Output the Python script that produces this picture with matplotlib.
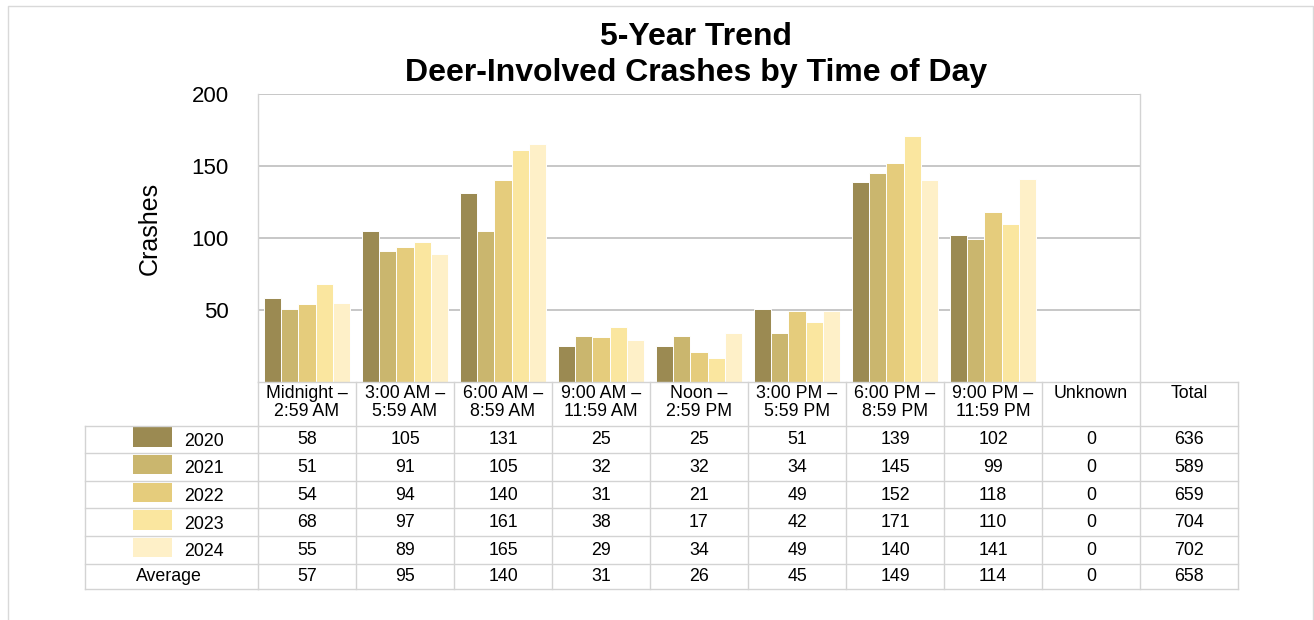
import matplotlib
matplotlib.use('Agg')
import matplotlib.pyplot as plt
from matplotlib.transforms import blended_transform_factory
import numpy as np

# ---------------- data ----------------
categories = ["Midnight –\n2:59 AM", "3:00 AM –\n5:59 AM", "6:00 AM –\n8:59 AM",
              "9:00 AM –\n11:59 AM", "Noon –\n2:59 PM", "3:00 PM –\n5:59 PM",
              "6:00 PM –\n8:59 PM", "9:00 PM –\n11:59 PM", "Unknown"]
total_label = "Total"
years = ["2020", "2021", "2022", "2023", "2024"]
v2020 = [58, 105, 131, 25, 25, 51, 139, 102, 0]
v2021 = [51, 91, 105, 32, 32, 34, 145, 99, 0]
v2022 = [54, 94, 140, 31, 21, 49, 152, 118, 0]
v2023 = [68, 97, 161, 38, 17, 42, 171, 110, 0]
v2024 = [55, 89, 165, 29, 34, 49, 140, 141, 0]
totals = [636, 589, 659, 704, 702]
average = [57, 95, 140, 31, 26, 45, 149, 114, 0]
average_total = 658
series = [v2020, v2021, v2022, v2023, v2024]
colors = ["#9B8A52", "#CAB66E", "#E5CC7C", "#FAE69F", "#FEF0C8"]
yticks = [50, 100, 150, 200]

FONT = "Liberation Sans"
plt.rcParams['font.family'] = [FONT, 'DejaVu Sans']

W, H = 1314, 620
fig = plt.figure(figsize=(W / 100, H / 100), dpi=100)

# plot area in pixels
L, R, T, B = 258, 1140, 94, 382
ax = fig.add_axes([L / W, 1 - B / H, (R - L) / W, (B - T) / H])
n = len(categories)
ax.set_xlim(0, n)
ax.set_ylim(0, 200)

grid_c = "#BDBDBD"
line_c = "#D3D3D3"
bw = 0.176
x = np.arange(n) + 0.5
for j, (vals, c) in enumerate(zip(series, colors)):
    ax.bar(x + (j - 2) * bw, vals, width=bw, color=c, edgecolor="white",
           linewidth=0.7, zorder=3)

ax.set_yticks(yticks)
ax.set_xticks([])
ax.yaxis.grid(True, color=grid_c, linewidth=1.2, zorder=0)
ax.tick_params(axis='y', length=0, pad=21, labelsize=16)
for s in ["top", "bottom"]:
    ax.spines[s].set_visible(False)
for s in ["left", "right"]:
    ax.spines[s].set_color(line_c)
    ax.spines[s].set_linewidth(1.0)

# overlay in pixel coordinates
ov = fig.add_axes([0, 0, 1, 1])
ov.set_xlim(0, W)
ov.set_ylim(H, 0)
ov.axis('off')
tr = blended_transform_factory(ax.transData, ov.transData)

# outer border
ov.plot([8, 8, 1313, 1313], [H, 6, 6, H], color="#D9D9D9", lw=1.0)

# title & y label
fig.text(696 / W, 1 - 37 / H, "5-Year Trend", ha='center', va='center',
         fontsize=23, fontweight='bold')
fig.text(696 / W, 1 - 73 / H, "Deer-Involved Crashes by Time of Day",
         ha='center', va='center', fontsize=23, fontweight='bold')
fig.text(150 / W, 1 - 228 / H, "Crashes", rotation=90, ha='center',
         va='center', fontsize=18)

# table
row_edges = [382, 425.5, 453, 480.7, 508.3, 536, 563.7, 589]
tl = 85
fs = 12.8
ncols = n + 1  # plus Total
# horizontal lines
ov.plot([0, ncols], [row_edges[0]] * 2, color=line_c, lw=1.0, transform=tr,
        clip_on=False)
for yv in row_edges[1:]:
    ov.plot([tl, L], [yv, yv], color=line_c, lw=1.0)
    ov.plot([0, ncols], [yv, yv], color=line_c, lw=1.0, transform=tr,
            clip_on=False)
# vertical lines
for k in range(ncols + 1):
    ov.plot([k, k], [row_edges[0], row_edges[-1]], color=line_c, lw=1.0,
            transform=tr, clip_on=False)
ov.plot([tl, tl], [row_edges[1], row_edges[-1]], color=line_c, lw=1.0)

# header
headers = categories + [total_label]
for k, lab in enumerate(headers):
    for li, part in enumerate(lab.split("\n")):
        ov.text(k + 0.5, 394 + 18 * li, part, ha='center', va='center',
                fontsize=fs, transform=tr)

# data rows
for r, (yr, vals, tot, c) in enumerate(zip(years, series, totals, colors)):
    top, bot = row_edges[r + 1], row_edges[r + 2]
    cy = (top + bot) / 2
    ov.add_patch(plt.Rectangle((133, top + 1.8), 39, 19.5, color=c, lw=0))
    ov.text(184, cy + 2, yr, ha='left', va='center', fontsize=fs)
    for k, v in enumerate(list(vals) + [tot]):
        ov.text(k + 0.5, cy + 0.5, str(v), ha='center', va='center',
                fontsize=fs, transform=tr)
top, bot = row_edges[6], row_edges[7]
cy = (top + bot) / 2
ov.text(169, cy + 0.5, "Average", ha='center', va='center', fontsize=fs)
for k, v in enumerate(list(average) + [average_total]):
    ov.text(k + 0.5, cy + 0.5, str(v), ha='center', va='center', fontsize=fs,
            transform=tr)

fig.savefig("out.png", dpi=100)
